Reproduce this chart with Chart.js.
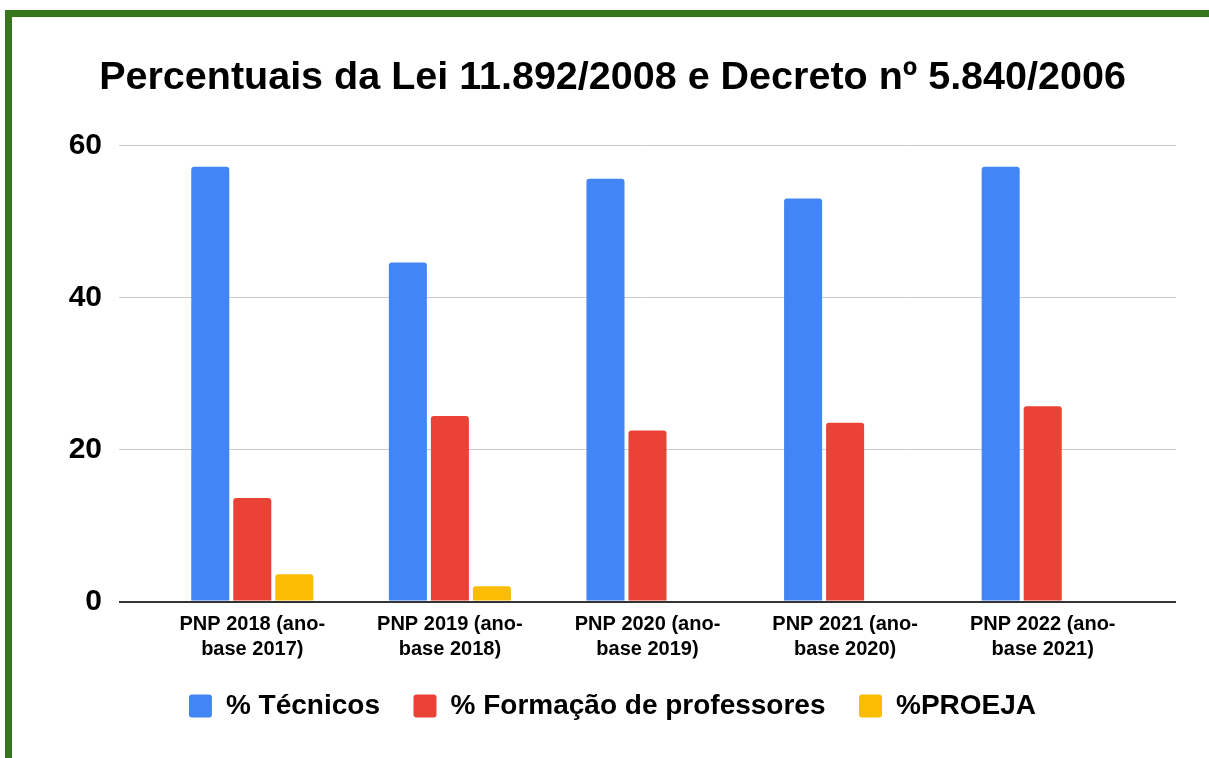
<!DOCTYPE html>
<html>
<head>
<meta charset="utf-8">
<script src="https://cdn.jsdelivr.net/npm/chart.js@4/dist/chart.umd.min.js"></script>
<style>
  body { margin: 0; background: #fff; }
  #frame {
    position: absolute; left: 5px; top: 10px; right: 0; bottom: 0;
    border-left: 7px solid #38761d; border-top: 7px solid #38761d;
  }
  #myChart { position: absolute; left: 0; top: 0; }
</style>
</head>
<body>
<div id="frame"></div>
<canvas id="myChart" width="1209" height="758"></canvas>
<script>
const labels = [
    ['PNP 2018 (ano-', 'base 2017)'],
    ['PNP 2019 (ano-', 'base 2018)'],
    ['PNP 2020 (ano-', 'base 2019)'],
    ['PNP 2021 (ano-', 'base 2020)'],
    ['PNP 2022 (ano-', 'base 2021)'],
];
const tecnicos = [57.2, 44.6, 55.6, 53.0, 57.2];
const formacao = [13.6, 24.4, 22.5, 23.5, 25.7];
const proeja = [3.6, 2.0, null, null, null];
const yTicks = [0, 20, 40, 60];

const font = "'Liberation Sans', Arial, sans-serif";
const toPoints = arr => arr.map((v, i) => ({ x: i, y: v }));

const data = {
    datasets: [
        {
            label: '% Técnicos',
            backgroundColor: '#4285f4',
            data: toPoints(tecnicos),
        },
        {
            label: '% Formação de professores',
            backgroundColor: '#ea4335',
            data: toPoints(formacao),
        },
        {
            label: '%PROEJA',
            backgroundColor: '#fbbc04',
            data: toPoints(proeja),
        }
    ]
};

var ctx = document.getElementById('myChart').getContext('2d');
var myChart = new Chart(ctx, {
    type: 'bar',
    data: data,
    options: {
        responsive: false,
        animation: false,
        devicePixelRatio: 1,
        categoryPercentage: 0.638,
        barPercentage: 0.905,
        borderRadius: { topLeft: 3, topRight: 3 },
        layout: { padding: { left: 49, right: 33, top: 0, bottom: 28 } },
        plugins: {
            title: {
                display: true,
                text: 'Percentuais da Lei 11.892/2008 e Decreto nº 5.840/2006',
                color: '#000',
                font: { family: font, size: 39.5, weight: 'bold' },
                padding: { top: 54, bottom: 44 },
            },
            legend: {
                position: 'bottom',
                labels: {
                    color: '#000',
                    font: { family: font, size: 28, weight: 'bold' },
                    boxWidth: 23,
                    boxHeight: 23,
                    padding: 33.5,
                    useBorderRadius: true,
                    borderRadius: 3,
                },
            },
            tooltip: { enabled: false },
        },
        scales: {
            x: {
                type: 'linear',
                offset: false,
                min: -0.6745,
                max: 4.6745,
                afterBuildTicks: scale => {
                    scale.ticks = labels.map((l, i) => ({ value: i }));
                },
                afterFit: scale => { scale.height -= 13; },
                ticks: {
                    color: '#000',
                    font: { family: font, size: 20, weight: 'bold', lineHeight: 1.25 },
                    padding: 10,
                    maxRotation: 0,
                    autoSkip: false,
                    callback: v => labels[v],
                },
                grid: { display: false, drawTicks: false },
                border: { display: false },
            },
            y: {
                min: 0,
                max: 60,
                afterBuildTicks: scale => {
                    scale.ticks = yTicks.map(v => ({ value: v }));
                },
                afterFit: scale => { scale.width = 70; },
                ticks: {
                    color: '#000',
                    font: { family: font, size: 30, weight: 'bold' },
                    padding: 17,
                },
                grid: {
                    drawTicks: false,
                    color: c => c.tick.value === 0 ? '#333333' : '#cccccc',
                    lineWidth: c => c.tick.value === 0 ? 2 : 1,
                },
                border: { display: false },
            }
        }
    }
});
</script>
</body>
</html>
